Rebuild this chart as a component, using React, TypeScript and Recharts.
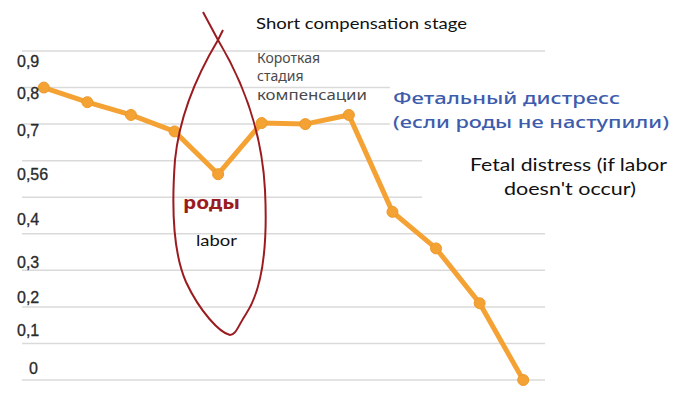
import React from "react";
import { LineChart, Line, XAxis, YAxis, CartesianGrid } from "recharts";

// stages along the curve (no axis labels in the picture)
const stages = [1, 2, 3, 4, 5, 6, 7, 8, 9, 10, 11, 12];
const reserve = [0.8, 0.76, 0.725, 0.68, 0.563, 0.703, 0.7, 0.725, 0.46, 0.36, 0.21, 0];

const yTicks = [0, 0.1, 0.2, 0.3, 0.4, 0.5, 0.6, 0.7, 0.8, 0.9];
const yTickLabels = ["0", "0,1", "0,2", "0,3", "0,4", "", "0,56", "0,7", "0,8", "0,9"];

const data = stages.map((s, i) => ({ stage: s, value: reserve[i] }));

// the labels in the source sit a bit off their grid lines
const tickDy = [-6, -7, -4, -2, -9, 0, 19, 12, 11, 16];

const W = 685;
const H = 400;
const ORANGE = "#f5a235";
const RED = "#9b1c20";

const YTick = (props: any) => {
  const { y, index } = props;
  const label = yTickLabels[index];
  if (!label) return null;
  return (
    <text
      x={label === "0" ? 29 : 17}
      y={y + tickDy[index]}
      fill="#2a2a2a"
      stroke="#2a2a2a"
      strokeWidth={0.3}
      fontSize={16}
      fontFamily="Liberation Sans, Arial, sans-serif"
    >
      {label}
    </text>
  );
};

export default function App() {
  return (
    <div style={{ position: "absolute", left: 0, top: 0, width: W, height: H, background: "#fff" }}>
      <LineChart width={W} height={H} data={data} margin={{ top: 51, right: 140, bottom: 20, left: 0 }}>
        <CartesianGrid vertical={false} stroke="#dadada" strokeWidth={1.5} />
        <XAxis dataKey="stage" type="number" domain={[0.5, 12.5]} hide />
        <YAxis
          domain={[0, 0.9]}
          ticks={yTicks}
          width={22}
          axisLine={false}
          tickLine={false}
          tick={<YTick />}
        />
        <Line
          dataKey="value"
          stroke={ORANGE}
          strokeWidth={5}
          dot={{ r: 5.5, fill: ORANGE, stroke: "#ec9a2c", strokeWidth: 1 }}
          isAnimationActive={false}
        />
      </LineChart>
      <svg width={W} height={H} style={{ position: "absolute", left: 0, top: 0, pointerEvents: "none" }}>
        {/* white boxes of the pasted captions */}
        <rect x={390} y={80} width={160} height={56} fill="#fff" />
        <rect x={422} y={148} width={128} height={60} fill="#fff" />

        {/* hand drawn loop round the dip */}
        <path
          d="M 203 12 L 218 40 C 242 80 262 130 265 190 C 268 250 262 290 246 314 C 238 326 236 335 230 335 C 220 333 200 312 186 282 C 172 250 172 200 175 160 C 180 110 200 70 218 40 L 223 30"
          fill="none"
          stroke={RED}
          strokeWidth={2}
        />

        <text x={256} y={29} fontSize={16} fontFamily="Lato, sans-serif" fill="#111" textLength={211} lengthAdjust="spacingAndGlyphs">
          Short compensation stage
        </text>

        <g fontSize={14} fontFamily="Noto Sans, sans-serif" fill="#4a4a4a">
          <text x={257} y={63}>Короткая</text>
          <text x={257} y={81}>стадия</text>
          <text x={257} y={100} textLength={110} lengthAdjust="spacingAndGlyphs">компенсации</text>
        </g>

        <g fontSize={17} fontFamily="Noto Sans, sans-serif" fill="#3d5cab" fontWeight={500}>
          <text x={393} y={104} textLength={227} lengthAdjust="spacingAndGlyphs">Фетальный дистресс</text>
          <text x={393} y={128} textLength={276} lengthAdjust="spacingAndGlyphs">(если роды не наступили)</text>
        </g>

        <g fontSize={18} fontFamily="Lato, sans-serif" fill="#111">
          <text x={470} y={171} textLength={197} lengthAdjust="spacingAndGlyphs">Fetal distress (if labor</text>
          <text x={504} y={195} textLength={132} lengthAdjust="spacingAndGlyphs">doesn't occur)</text>
        </g>

        <text x={183} y={209} fontSize={18} fontWeight="bold" fontFamily="Noto Sans, sans-serif" fill={RED} textLength={57} lengthAdjust="spacingAndGlyphs">
          роды
        </text>
        <text x={196} y={246} fontSize={15} fontFamily="Lato, sans-serif" fill="#111" textLength={41} lengthAdjust="spacingAndGlyphs">
          labor
        </text>
      </svg>
    </div>
  );
}
